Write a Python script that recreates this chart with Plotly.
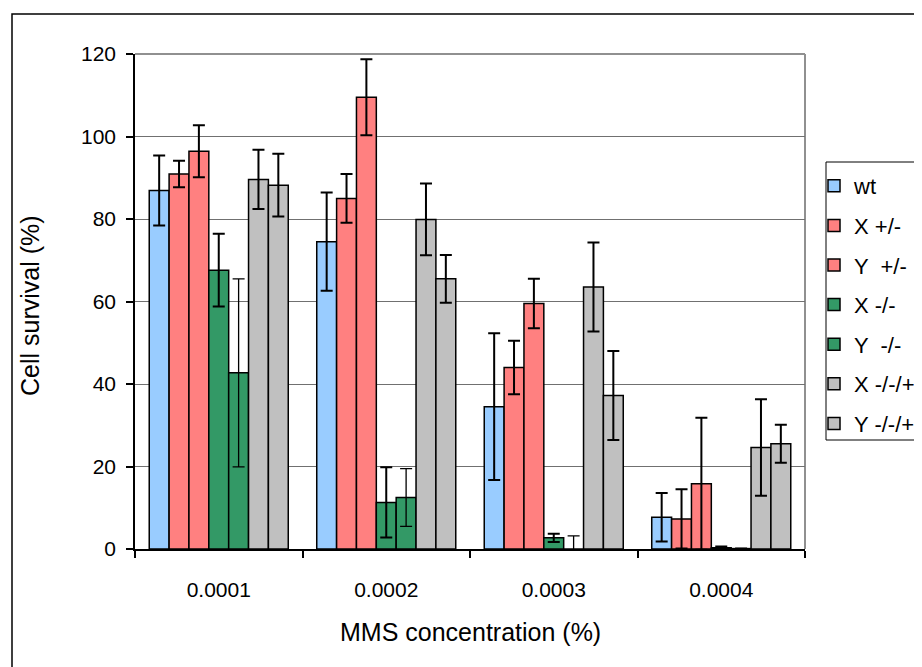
import plotly.graph_objects as go

categories = ["0.0001", "0.0002", "0.0003", "0.0004"]
series_names = ["wt", "X +/-", "Y  +/-", "X -/-", "Y  -/-", "X -/-/+", "Y -/-/+"]
colors = ["#99CCFF", "#FF8080", "#FF8080", "#339966", "#339966", "#C0C0C0", "#C0C0C0"]

wt = [86.9, 74.5, 34.5, 7.7]
x_het = [90.9, 85.0, 44.0, 7.3]
y_het = [96.4, 109.5, 59.5, 15.8]
x_ko = [67.6, 11.3, 2.7, 0.3]
y_ko = [42.7, 12.5, 0.0, 0.1]
x_res = [89.6, 79.9, 63.5, 24.6]
y_res = [88.2, 65.5, 37.2, 25.5]

wt_err = [8.5, 11.9, 17.8, 5.9]
x_het_err = [3.2, 5.9, 6.5, 7.2]
y_het_err = [6.3, 9.2, 6.0, 16.0]
x_ko_err = [8.8, 8.5, 1.0, 0.3]
y_ko_err = [22.8, 7.0, 3.2, 0.1]
x_res_err = [7.2, 8.7, 10.8, 11.7]
y_res_err = [7.6, 5.8, 10.8, 4.6]

values = [wt, x_het, y_het, x_ko, y_ko, x_res, y_res]
errors = [wt_err, x_het_err, y_het_err, x_ko_err, y_ko_err, x_res_err, y_res_err]

FONT = "Liberation Sans, Arial, sans-serif"

fig = go.Figure()
for i, (name, vals, errs, col) in enumerate(zip(series_names, values, errors, colors)):
    fig.add_trace(go.Bar(
        name=name, x=categories, y=vals,
        marker=dict(color=col, line=dict(color="black", width=1.5)),
        error_y=dict(type="data", array=errs, visible=True, color="black",
                     thickness=1.3 if i == 4 else 2, width=6),
        legendgroup=f"g{i}",
    ))

OFF = 8  # page body margin
W, H = 922 - OFF, 667 - OFF
L, R, T, B = 135 - OFF, 805 - OFF, 54 - OFF, 549 - OFF
pw, ph = R - L, B - T

def px(x):
    return (x - OFF - L) / pw

def py(y):
    return (B - (y - OFF)) / ph

fig.update_layout(
    width=W, height=H,
    margin=dict(l=L, r=W - R, t=T, b=H - B, autoexpand=False),
    barmode="group", bargap=0.17, bargroupgap=0,
    plot_bgcolor="white", paper_bgcolor="white",
    font=dict(family=FONT, size=21, color="black"),
    showlegend=True,
    legend=dict(x=px(814), y=py(165), xanchor="left", yanchor="top",
                borderwidth=0, bgcolor="rgba(0,0,0,0)",
                font=dict(family=FONT, size=22), tracegroupgap=8,
                traceorder="grouped", itemwidth=30),
    xaxis=dict(type="category", showline=True, linecolor="black", linewidth=1.5,
               ticks="outside", tickson="boundaries", ticklen=7, tickcolor="black",
               tickwidth=1.5, showgrid=False, ticklabelstandoff=21,
               tickfont=dict(size=21)),
    yaxis=dict(range=[0, 120], dtick=20, showline=True, linecolor="black",
               linewidth=1.5, ticks="outside", ticklen=7, tickcolor="black",
               tickwidth=1.5, showgrid=True, gridcolor="#707070", gridwidth=1.2,
               zeroline=False, ticklabelstandoff=6, tickfont=dict(size=21)),
    shapes=[
        dict(type="line", xref="paper", yref="paper", x0=0, x1=1, y0=1, y1=1,
             line=dict(color="#909090", width=2), layer="below"),
        dict(type="line", xref="paper", yref="paper", x0=1, x1=1, y0=0, y1=1,
             line=dict(color="#909090", width=2), layer="below"),
        dict(type="rect", xref="paper", yref="paper", x0=px(12), x1=px(960),
             y0=py(700), y1=py(14), line=dict(color="black", width=1.5),
             fillcolor="rgba(0,0,0,0)", layer="below"),
        dict(type="rect", xref="paper", yref="paper", x0=px(826), x1=px(960),
             y0=py(440), y1=py(162), line=dict(color="black", width=1),
             fillcolor="white", layer="below"),
    ],
    annotations=[
        dict(text="Cell survival (%)", xref="paper", yref="paper", x=px(30), y=py(306),
             textangle=-90, showarrow=False, font=dict(size=25, family=FONT),
             xanchor="center", yanchor="middle"),
        dict(text="MMS concentration (%)", xref="paper", yref="paper", x=0.5, y=py(632),
             showarrow=False, font=dict(size=25, family=FONT),
             xanchor="center", yanchor="middle"),
    ],
)

fig.write_html("out.html")
